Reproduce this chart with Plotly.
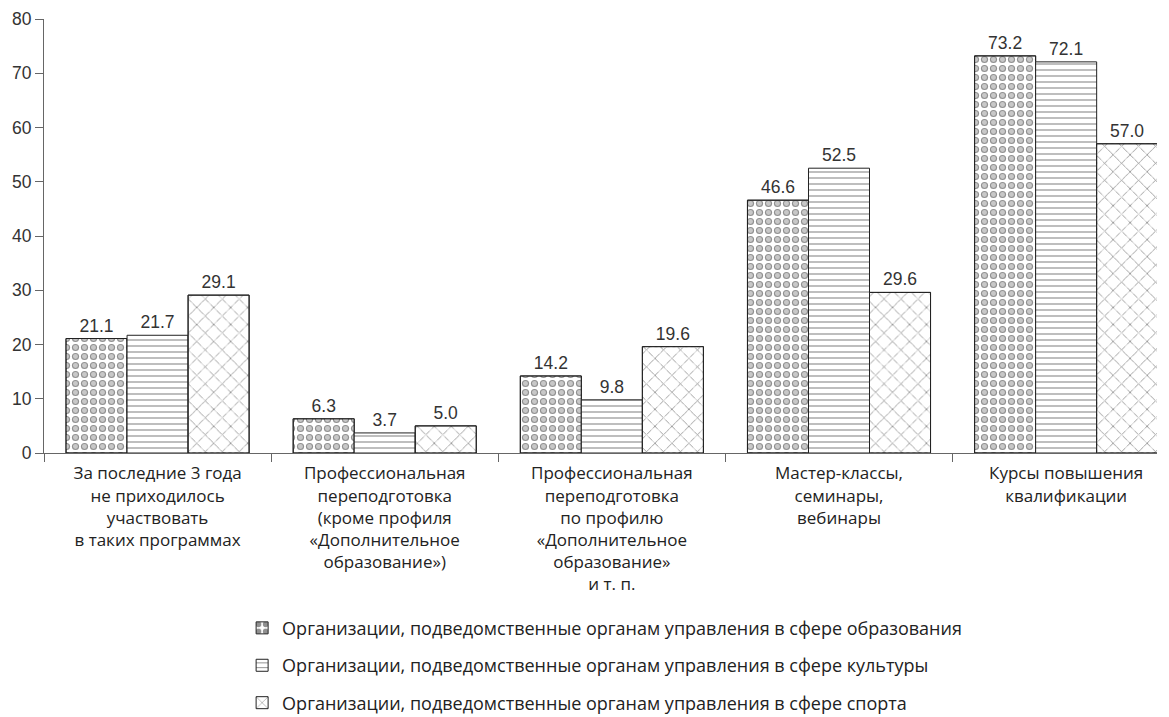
import plotly.graph_objects as go

categories = [
    "За последние 3 года<br>не приходилось<br>участвовать<br>в таких программах",
    "Профессиональная<br>переподготовка<br>(кроме профиля<br>«Дополнительное<br>образование»)",
    "Профессиональная<br>переподготовка<br>по профилю<br>«Дополнительное<br>образование»<br>и т. п.",
    "Мастер-классы,<br>семинары,<br>вебинары",
    "Курсы повышения<br>квалификации",
]
series_names = [
    "Организации, подведомственные органам управления в сфере образования",
    "Организации, подведомственные органам управления в сфере культуры",
    "Организации, подведомственные органам управления в сфере спорта",
]
education = [21.1, 6.3, 14.2, 46.6, 73.2]
culture = [21.7, 3.7, 9.8, 52.5, 72.1]
sport = [29.1, 5.0, 19.6, 29.6, 57.0]
y_ticks = [0, 10, 20, 30, 40, 50, 60, 70, 80]

NUM_FONT = "Liberation Sans Narrow, Arial Narrow, Liberation Sans, sans-serif"
TXT_FONT = "Open Sans, Noto Sans, sans-serif"
LINE = dict(color="#222", width=1)
VALFONT = dict(family=NUM_FONT, size=17.5, color="#333")

fig = go.Figure()

# education: rings (black dots with smaller white dots on top)
fig.add_trace(go.Bar(
    x=categories, y=education, name=series_names[0], offsetgroup="a",
    legendgroup="a",
    marker=dict(color="white", line=LINE,
                pattern=dict(shape=".", size=9, solidity=0.5,
                             fgcolor="#222", bgcolor="white")),
    texttemplate="%{y:.1f}", textposition="outside", cliponaxis=False,
    textfont=VALFONT,
))
fig.add_trace(go.Bar(
    x=categories, y=education, name=series_names[0], offsetgroup="a",
    showlegend=False, hoverinfo="skip",
    marker=dict(color="rgba(0,0,0,0)", line=LINE,
                pattern=dict(shape=".", size=9, solidity=0.24,
                             fgcolor="white", bgcolor="rgba(0,0,0,0)")),
))
# culture: brick rows
fig.add_trace(go.Bar(
    x=categories, y=culture, name=series_names[1], offsetgroup="b",
    legendgroup="b",
    marker=dict(color="white", line=LINE,
                pattern=dict(shape="-", size=6, solidity=0.2,
                             fgcolor="#222", bgcolor="white")),
    texttemplate="%{y:.1f}", textposition="outside", cliponaxis=False,
    textfont=VALFONT,
))
# sport: staggered small crosses (diagonal lattice with segment midpoints erased)
fig.add_trace(go.Bar(
    x=categories, y=sport, name=series_names[2], offsetgroup="c",
    legendgroup="c",
    marker=dict(color="white", line=LINE,
                pattern=dict(shape="x", size=12, solidity=0.14,
                             fgcolor="#222", bgcolor="white")),
    texttemplate="%{y:.1f}", textposition="outside", cliponaxis=False,
    textfont=VALFONT,
))
fig.add_trace(go.Bar(
    x=categories, y=sport, name=series_names[2], offsetgroup="c",
    showlegend=False, hoverinfo="skip",
    marker=dict(color="rgba(0,0,0,0)", line=LINE,
                pattern=dict(shape=".", size=6, solidity=0.36,
                             fgcolor="white", bgcolor="rgba(0,0,0,0)")),
))

fig.update_layout(
    width=1161, height=709,
    margin=dict(l=36, r=12, t=11, b=264, autoexpand=False),
    paper_bgcolor="white", plot_bgcolor="white",
    barmode="group", bargap=0.194, bargroupgap=0,
    showlegend=True,
    legend=dict(
        x=0.178, y=-0.361, xanchor="left", yanchor="top",
        orientation="v", traceorder="grouped", tracegroupgap=11,
        font=dict(family=TXT_FONT, size=18, color="#222"),
        bgcolor="rgba(0,0,0,0)",
    ),
    xaxis=dict(
        type="category", range=[-0.5, 4.4], automargin=False,
        tickson="boundaries", ticks="outside", ticklen=8, tickcolor="#666",
        ticklabelstandoff=5,
        showline=True, linecolor="#666", linewidth=1,
        showgrid=False, zeroline=False,
        tickfont=dict(family=TXT_FONT, size=17, color="#222"),
    ),
    yaxis=dict(
        range=[0, 80], tickvals=y_ticks, automargin=False,
        ticks="outside", ticklen=8, tickcolor="#666",
        showline=True, linecolor="#666", linewidth=1,
        showgrid=False, zeroline=False,
        tickfont=dict(family=NUM_FONT, size=17.5, color="#333"),
    ),
)

fig.write_html("out.html")
